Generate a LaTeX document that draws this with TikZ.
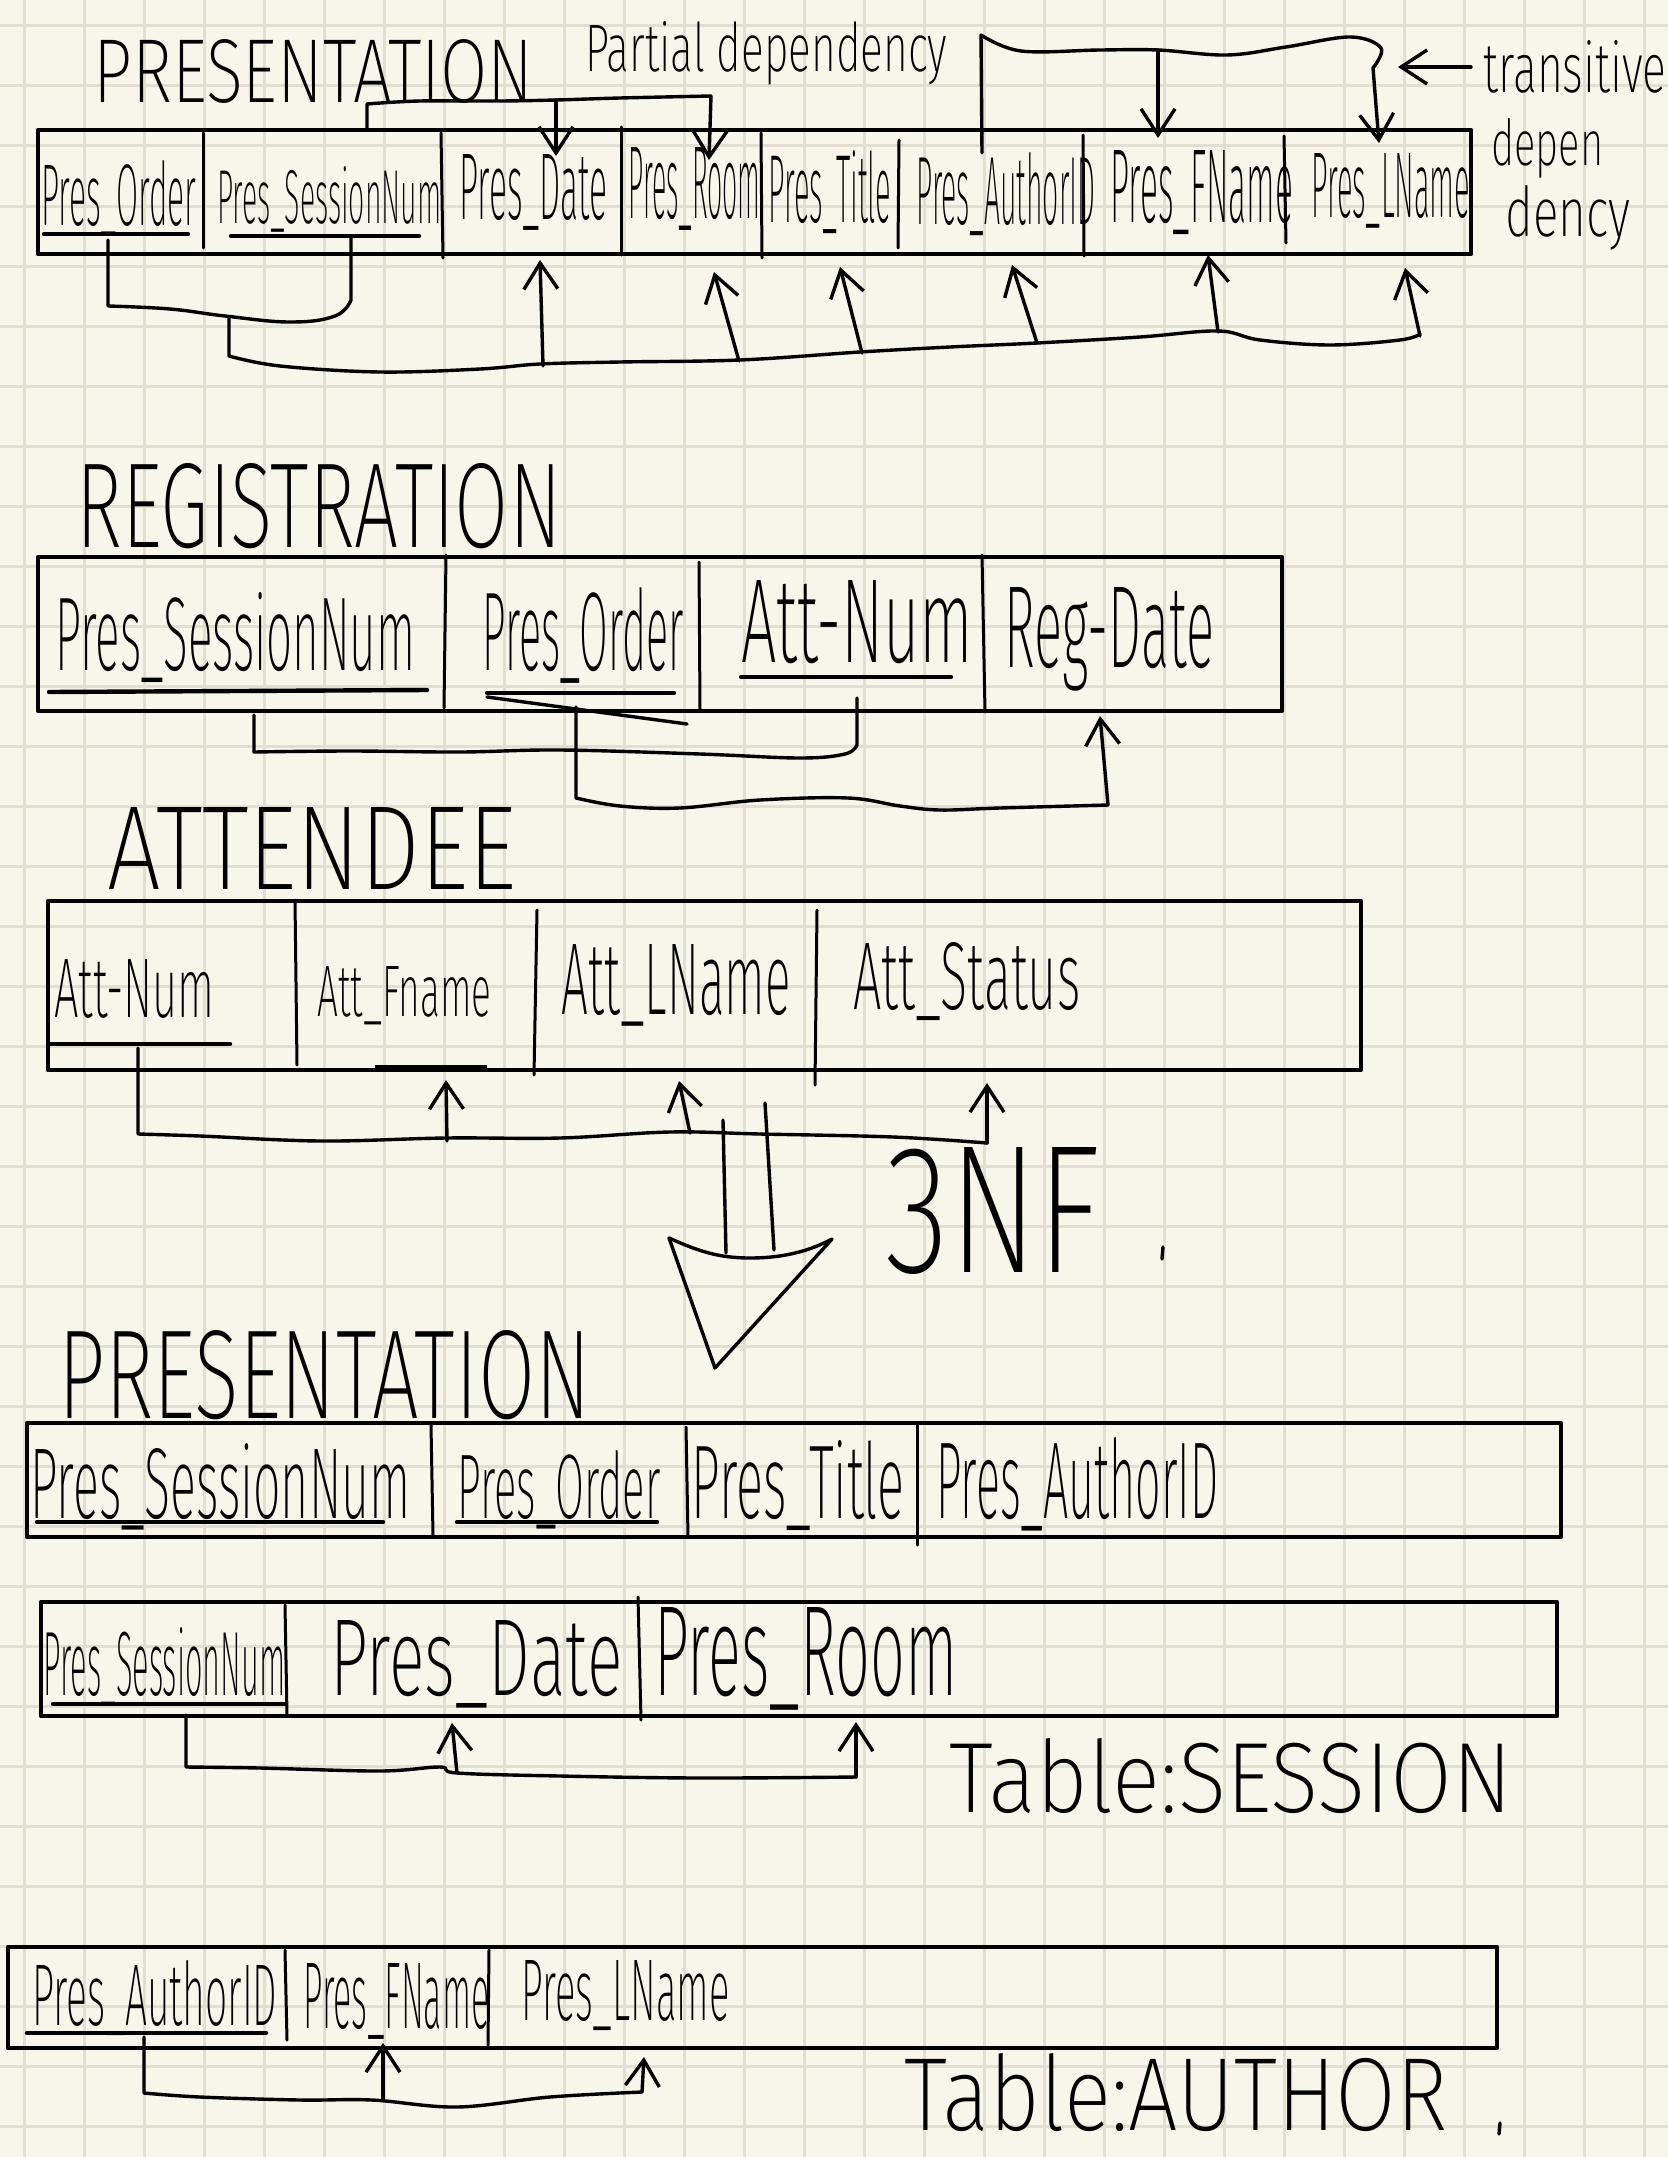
\documentclass[tikz,border=0pt]{standalone}
\usepackage{fontspec}
\setmainfont{Fira Sans}[UprightFont={* ExtraLight}]
\usetikzlibrary{arrows.meta}
\newlength\pxu \setlength\pxu{0.5pt}
\newcommand{\hw}[3]{\resizebox{#1\pxu}{#2\pxu}{#3}}
\definecolor{paper}{RGB}{248,246,234}
\definecolor{gridc}{RGB}{226,223,210}
\begin{document}
\begin{tikzpicture}[x=0.5pt,y=-0.5pt,
  lab/.style={inner sep=0pt, anchor=base west},
  ln/.style={line width=1.7pt, line cap=round, line join=round},
  arr/.style={ln, -{Straight Barb[length=13pt,width=17pt]}},
  boxe/.style={line width=2.3pt, line join=round},
  divl/.style={line width=1.5pt, line cap=round},
  ul/.style={line width=2.2pt, line cap=round}]
\useasboundingbox (0,0) rectangle (1668,2157);
\fill[paper] (0,0) rectangle (1668,2157);
\foreach \i in {0,...,27} \draw[gridc, line width=1.5pt] ({24+60*\i},0) -- ({24+60*\i},2157);
\foreach \j in {0,...,35} \draw[gridc, line width=1.5pt] (0,{26+60*\j}) -- (1668,{26+60*\j});

% ===== PRESENTATION (original) =====
\node[lab] (t1) at (93,103) {\hw{440}{63}{PRESENTATION}};
\node[lab] (pd) at (585,72) {\hw{362}{50}{Partial dependency}};
\node[lab] (tr) at (1483,92) {\hw{183}{52}{transitive}};
\node[lab] (dp) at (1491,165) {\hw{112}{47}{depen}};
\node[lab] (dc) at (1505,236) {\hw{125}{51}{dency}};
\draw[boxe] (38,130) rectangle (1471,254);
\draw[divl] (203,133) -- (203,248);
\draw[divl] (441,133) -- (443,258);
\draw[divl] (621,127) -- (621,255);
\draw[divl] (761,133) -- (762,258);
\draw[divl] (899,140) -- (898,248);
\draw[divl] (1083,135) -- (1084,256);
\draw[divl] (1284,136) -- (1286,243);
\node[lab] (o1) at (41,225) {\hw{155}{65}{Pres\_Order}};
\node[lab] (o2) at (217,223) {\hw{224}{57}{Pres\_SessionNum}};
\node[lab] (o3) at (459,220) {\hw{148}{65}{Pres\_Date}};
\node[lab] (o4) at (628,218) {\hw{132}{71}{Pres\_Room}};
\node[lab] (o5) at (768,222) {\hw{123}{72}{Pres\_Title}};
\node[lab] (o6) at (916,224) {\hw{179}{72}{Pres\_AuthorID}};
\node[lab] (o7) at (1110,222) {\hw{183}{72}{Pres\_FName}};
\node[lab] (o8) at (1311,217) {\hw{159}{64}{Pres\_LName}};
\draw[ul] (44,234) -- (188,234);
\draw[ul] (231,236) -- (419,236);
% key bracket
\draw[ln] (108,240) -- plot[smooth,tension=0.7] coordinates {(108,306)(170,309)(225,316)(290,322)(335,316)(351,300)} -- (351,238);
\draw[ln] (229,317) -- plot[smooth,tension=0.6] coordinates {(229,356)(280,366)(380,372)(480,369)(540,364)(620,362)(740,360)(860,352)(950,347)(1037,343)(1140,337)(1218,331)(1260,340)(1330,345)(1400,340)(1420,334)};
\draw[arr] (1420,336) -- (1405,268);
\draw[arr] (543,366) -- (540,260);
\draw[arr] (739,361) -- (714,272);
\draw[arr] (862,353) -- (840,267);
\draw[arr] (1037,343) -- (1012,265);
\draw[arr] (1218,332) -- (1208,255);
% partial dependency
\draw[ln] (367,130) -- plot[smooth,tension=0.6] coordinates {(367,104)(420,101)(500,101)(556,100)(620,98)(711,96)};
\draw[arr] (556,100) -- (556,156);
\draw[arr] (711,96) -- (709,160);
% transitive dependency
\draw[ln] (982,153) -- plot[smooth,tension=0.6] coordinates {(981,35)(1021,51)(1100,50)(1158,50)(1227,55)(1286,47)(1350,37)(1381,48)(1373,68)};
\draw[arr] (1373,68) -- (1379,143);
\draw[arr] (1158,50) -- (1158,138);
\draw[arr] (1471,67) -- (1398,67);

% ===== REGISTRATION =====
\node[lab] (t2) at (76,547) {\hw{485}{84}{REGISTRATION}};
\draw[boxe] (38,557) rectangle (1282,711);
\draw[divl] (446,555) -- (444,708);
\draw[divl] (699,562) -- (700,710);
\draw[divl] (982,555) -- (985,712);
\node[lab] (r1) at (55,670) {\hw{360}{78}{Pres\_SessionNum}};
\node[lab] (r2) at (482,670) {\hw{201}{83}{Pres\_Order}};
\node[lab] (r3) at (741,662) {\hw{232}{82}{Att-Num}};
\node[lab] (r4) at (1004,667) {\hw{210}{80}{Reg-Date}};
\draw[ul] (49,692) -- (427,690);
\draw[ul] (487,693) -- (674,693);
\draw[ul] (741,677) -- (951,677);
\draw[ln] (487,697) -- (687,724);
\draw[ln] (254,715) -- plot[smooth,tension=0.6] coordinates {(254,752)(350,751)(460,752)(560,750)(700,754)(800,758)(845,754)(857,745)} -- (857,698);
\draw[ln] (576,707) -- plot[smooth,tension=0.6] coordinates {(576,798)(620,806)(680,808)(760,800)(848,798)(900,806)(940,810)(1000,808)(1108,805)};
\draw[arr] (1108,805) -- (1100,716);

% ===== ATTENDEE =====
\node[lab] (t3) at (107,889) {\hw{409}{82}{ATTENDEE}};
\draw[boxe] (48,901) rectangle (1361,1070);
\draw[divl] (295,900) -- (297,1065);
\draw[divl] (537,910) -- (534,1075);
\draw[divl] (817,910) -- (815,1085);
\node[lab] (a1) at (54,1017) {\hw{160}{58}{Att-Num}};
\node[lab] (a2) at (317,1016) {\hw{174}{50}{Att\_Fname}};
\node[lab] (a3) at (561,1014) {\hw{229}{70}{Att\_LName}};
\node[lab] (a4) at (853,1009) {\hw{227}{67}{Att\_Status}};
\draw[ul] (49,1044) -- (230,1044);
\draw[line width=3pt] (375,1068) -- (487,1068);
\draw[ln] (138,1048) -- plot[smooth,tension=0.6] coordinates {(138,1134)(200,1136)(321,1141)(446,1138)(560,1138)(670,1132)(760,1134)(893,1137)(987,1143)};
\draw[arr] (987,1143) -- (987,1083);
\draw[arr] (447,1141) -- (446,1080);
\draw[arr] (690,1133) -- (679,1081);

% ===== 3NF arrow =====
\draw[ln] (723,1120) -- (726,1253);
\draw[ln] (765,1103) -- (774,1250);
\draw[ln] (669,1238) .. controls (700,1252) and (720,1258) .. (750,1258) .. controls (790,1258) and (815,1248) .. (832,1239) -- (715,1368) -- cycle;
\node[lab] (nf) at (885,1272) {\hw{215}{125}{3NF}};
\draw[ln] (1163,1247) -- (1162,1259);

% ===== PRESENTATION (3NF) =====
\node[lab] (t4) at (58,1418) {\hw{532}{88}{PRESENTATION}};
\draw[boxe] (27,1423) rectangle (1561,1537);
\draw[divl] (431,1425) -- (433,1535);
\draw[divl] (686,1427) -- (688,1537);
\draw[divl] (917,1425) -- (917,1545);
\node[lab] (p1) at (30,1518) {\hw{380}{75}{Pres\_SessionNum}};
\node[lab] (p2) at (457,1518) {\hw{203}{68}{Pres\_Order}};
\node[lab] (p3) at (691,1518) {\hw{213}{78}{Pres\_Title}};
\node[lab] (p4) at (936,1518) {\hw{282}{81}{Pres\_AuthorID}};
\draw[ul] (37,1522) -- (383,1522);
\draw[ul] (457,1522) -- (657,1522);

% ===== SESSION =====
\draw[boxe] (41,1602) rectangle (1557,1716);
\draw[divl] (285,1605) -- (287,1715);
\draw[divl] (638,1597) -- (641,1720);
\node[lab] (s1) at (43,1695) {\hw{242}{68}{Pres\_SessionNum}};
\node[lab] (s2) at (330,1695) {\hw{292}{75}{Pres\_Date}};
\node[lab] (s3) at (654,1695) {\hw{303}{88}{Pres\_Room}};
\draw[ul] (53,1704) -- (285,1704);
\draw[ln] (186,1715) -- plot[smooth,tension=0.6] coordinates {(186,1767)(260,1768)(380,1771)(440,1767)(457,1773)(560,1776)(700,1778)(856,1777)};
\draw[arr] (856,1777) -- (856,1722);
\draw[arr] (457,1773) -- (452,1723);
\node[lab] (ts) at (949,1812) {\hw{563}{74}{Table:SESSION}};

% ===== AUTHOR =====
\draw[boxe] (8,1947) rectangle (1497,2048);
\draw[divl] (285,1950) -- (287,2040);
\draw[divl] (489,1950) -- (488,2045);
\node[lab] (u1) at (32,2025) {\hw{245}{65}{Pres\_AuthorID}};
\node[lab] (u2) at (303,2028) {\hw{186}{65}{Pres\_FName}};
\node[lab] (u3) at (521,2020) {\hw{208}{60}{Pres\_LName}};
\draw[ul] (27,2033) -- (266,2033);
\draw[ln] (144,2037) -- plot[smooth,tension=0.6] coordinates {(144,2093)(200,2097)(300,2100)(372,2100)(457,2107)(550,2097)(642,2092)};
\draw[arr] (642,2092) -- (644,2057);
\draw[arr] (383,2100) -- (383,2043);
\node[lab] (ta) at (904,2130) {\hw{543}{77}{Table:AUTHOR}};
\draw[ln] (1500,2123) -- (1499,2134);
\end{tikzpicture}
\end{document}
